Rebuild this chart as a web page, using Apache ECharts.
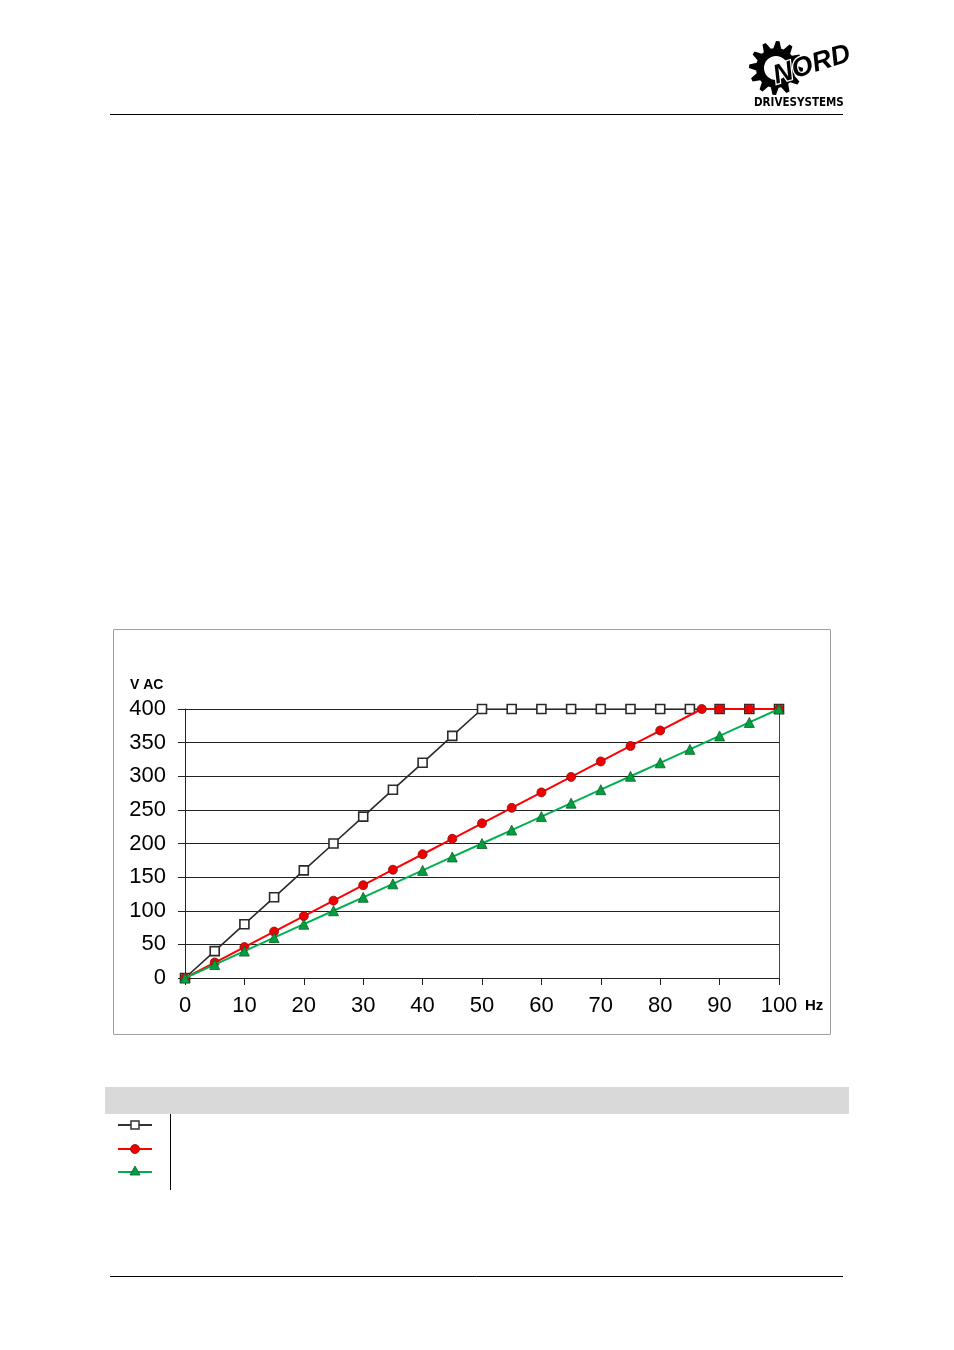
<!DOCTYPE html>
<html><head><meta charset="utf-8">
<script src="https://cdn.jsdelivr.net/npm/echarts@6/dist/echarts.min.js"></script>
<style>html,body{margin:0;padding:0;background:#fff}#c{width:954px;height:1350px}</style>
</head><body><div id="c"></div>
<script>
// Data
const xTicks = [0,10,20,30,40,50,60,70,80,90,100];
const blackHz = [0,5,10,15,20,25,30,35,40,45,50,55,60,65,70,75,80,85,90,95,100];
const blackV  = [0,40,80,120,160,200,240,280,320,360,400,400,400,400,400,400,400,400,400,400,400];
const redHz = [0,5,10,15,20,25,30,35,40,45,50,55,60,65,70,75,80,87,90,95,100];
const redV  = [0,23,46,69,92,115,138,161,184,207,230,253,276,299,322,345,368,400,400,400,400];
const greenHz = [0,5,10,15,20,25,30,35,40,45,50,55,60,65,70,75,80,85,90,95,100];
const greenV  = [0,20,40,60,80,100,120,140,160,180,200,220,240,260,280,300,320,340,360,380,400];

const pair = (a,b)=>a.map((x,i)=>[x,b[i]]);
const chart = echarts.init(document.getElementById('c'), null, {renderer:'canvas'});
const FONT = '"Liberation Sans", Arial, sans-serif';

// gear shape for logo
function gearPoints(cx, cy, rO, rI, teeth){
  const pts=[]; const n=teeth*4;
  for(let i=0;i<n;i++){
    const a = i/n*Math.PI*2;
    const r = (i%4===0||i%4===1)? rO : rI;
    pts.push([cx+r*Math.cos(a), cy+r*Math.sin(a)]);
  }
  return pts;
}

chart.setOption({
  animation:false,
  grid:{left:185, top:709, width:594, height:269, show:false},
  xAxis:{type:'value', min:0, max:100, interval:10,
    axisLine:{show:true, lineStyle:{color:'#222', width:1}},
    axisTick:{show:true, length:7, lineStyle:{color:'#222'}},
    axisLabel:{color:'#000', fontSize:22, fontFamily:FONT, margin:17},
    splitLine:{show:false}},
  yAxis:[{type:'value', min:0, max:400, interval:50,
    axisLine:{show:true, lineStyle:{color:'#222', width:1}},
    axisTick:{show:true, length:7, lineStyle:{color:'#222'}},
    axisLabel:{color:'#000', fontSize:22, fontFamily:FONT, margin:19},
    splitLine:{show:true, lineStyle:{color:'#222', width:1}}},
   {type:'value', min:0, max:400, interval:50, position:'right',
    axisLine:{show:true, lineStyle:{color:'#444', width:1}},
    axisTick:{show:false}, axisLabel:{show:false}, splitLine:{show:false}}],
  series:[
    {type:'line', data:pair(blackHz,blackV), symbol:'rect', symbolSize:9,
     lineStyle:{color:'#2a2a2a', width:1.6}, itemStyle:{color:'#fff', borderColor:'#2a2a2a', borderWidth:1.6}, z:2},
    {type:'line', data:pair(redHz,redV), symbol:'circle', symbolSize:9,
     lineStyle:{color:'#ff0000', width:2}, itemStyle:{color:'#ee0000', borderColor:'#8a1010', borderWidth:0.8}, z:3},
    {type:'line', data:pair(greenHz,greenV), symbol:'triangle', symbolSize:10,
     lineStyle:{color:'#00b050', width:2}, itemStyle:{color:'#00a040', borderColor:'#145a2a', borderWidth:0.8}, z:4}
  ],
  graphic:[
    // header line
    {type:'line', shape:{x1:110,y1:114.5,x2:843,y2:114.5}, style:{stroke:'#000', lineWidth:1}},
    // footer line
    {type:'line', shape:{x1:110,y1:1276.5,x2:843,y2:1276.5}, style:{stroke:'#000', lineWidth:1}},
    // logo gear
    {type:'polygon', shape:{points:gearPoints(776,68,27,20,12)}, style:{fill:'#000'}},
    {type:'circle', shape:{cx:776,cy:68,r:12}, style:{fill:'#fff'}},
    {type:'text', x:770, y:64, rotation:0.3, style:{text:'NORD', font:'italic bold 27px "Liberation Sans", Arial', fill:'#000', stroke:'#fff', lineWidth:2.5}},
    {type:'text', x:754, y:97, style:{text:'DRIVESYSTEMS', font:'bold 11.5px "Liberation Sans Narrow", "DejaVu Sans Condensed", Arial', fill:'#000'}},
    // chart frame
    {type:'rect', shape:{x:113.5,y:629.5,width:717,height:405}, style:{fill:'none', stroke:'#a0a0a0', lineWidth:1}, z:-1},
    {type:'text', x:130, y:678, style:{text:'V AC', font:'bold 14px "Liberation Sans", Arial', fill:'#000'}},
    {type:'text', x:805, y:998, style:{text:'Hz', font:'bold 15px "Liberation Sans", Arial', fill:'#000'}},
    // legend table
    {type:'rect', shape:{x:105,y:1087,width:744,height:27}, style:{fill:'#d9d9d9'}},
    {type:'line', shape:{x1:170.5,y1:1114,x2:170.5,y2:1190}, style:{stroke:'#000', lineWidth:1}},
    {type:'line', shape:{x1:118,y1:1125,x2:152,y2:1125}, style:{stroke:'#333', lineWidth:2}},
    {type:'rect', shape:{x:131,y:1121,width:8,height:8}, style:{fill:'#fff', stroke:'#333', lineWidth:1.5}},
    {type:'line', shape:{x1:118,y1:1149,x2:152,y2:1149}, style:{stroke:'#ff0000', lineWidth:2}},
    {type:'circle', shape:{cx:135,cy:1149,r:4.5}, style:{fill:'#ee0000', stroke:'#8a1010', lineWidth:0.8}},
    {type:'line', shape:{x1:118,y1:1172,x2:152,y2:1172}, style:{stroke:'#00b050', lineWidth:2}},
    {type:'polygon', shape:{points:[[135,1166],[140,1175],[130,1175]]}, style:{fill:'#00a040', stroke:'#145a2a', lineWidth:0.8}}
  ]
});
</script></body></html>
